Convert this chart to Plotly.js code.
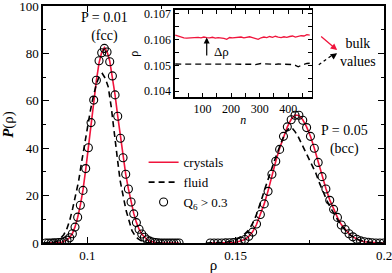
<!DOCTYPE html>
<html><head><meta charset="utf-8">
<script src="https://cdn.plot.ly/plotly-3.0.1.min.js"></script>
<style>html,body{margin:0;padding:0;background:#fff}#chart{width:392px;height:273px}</style>
</head><body><div id="chart"></div>
<script>
// ---- P = 0.01 (fcc) ----
const fccRho = [0.0859,0.0868,0.0877,0.0886,0.0895,0.0904,0.0913,0.0922,0.0931,0.0940,
0.0949,0.0958,0.0967,0.0976,0.0985,0.0994,0.1003,0.1012,0.1021,0.1030,
0.1039,0.1048,0.1057,0.1066,0.1075,0.1084,0.1093,0.1102,0.1111,0.1120,
0.1129,0.1138,0.1147,0.1156,0.1165,0.1174,0.1183,0.1192,0.1201,0.1210,
0.1219,0.1228,0.1237,0.1246,0.1255,0.1264,0.1273,0.1282,0.1291,0.1300,0.1309];
const fccQ6 = [0,0,0,0.05,0.1,0.2,0.3,0.6,1.2,2.2,
3.9,6.7,10.9,15.9,22.2,31.4,40.2,50.8,60.3,68.7,
76.9,80.3,82.1,80.6,76.5,70.5,62.5,53.5,44.2,36.0,
29.0,22.8,17.3,12.3,8.6,5.8,3.8,2.4,1.4,0.8,
0.4,0.2,0.1,0,0,0,0,0,0,0,0];
const fccCrystal = [0,0,0,0.05,0.1,0.2,0.35,0.7,1.3,2.3,
4.0,6.8,10.8,16.0,22.5,31.0,40.5,50.5,60.0,68.5,
76.0,80.5,82.5,80.8,76.8,70.5,62.5,53.5,44.5,36.0,
29.0,22.8,17.2,12.5,8.7,5.8,3.8,2.4,1.4,0.8,
0.4,0.2,0.1,0,0,0,0,0,0,0,0];
const fccFluidRho = [0.085,0.086,0.087,0.088,0.089,0.090,0.091,0.092,0.093,0.094,0.095,0.096,0.097,0.098,0.099,
0.100,0.101,0.102,0.103,0.104,0.105,0.106,0.107,0.108,0.109,0.110,0.111,0.112,0.113,0.114,0.115,0.116,0.117,
0.118,0.119,0.120,0.121,0.122,0.123,0.124,0.125];
const fccFluid = [0,0.05,0.1,0.2,0.4,0.8,2.0,3.5,5.8,9.5,14.5,20,26,34,42,
49,56,62,67,70.5,71.5,69.5,65.9,57.5,48,36.5,26.4,19.5,13.8,9.5,5.2,3.2,1.8,
1.0,0.5,0.2,0.1,0,0,0,0];

// ---- P = 0.05 (bcc) ----
const bccRho = [0.1414,0.1427,0.1440,0.1453,0.1466,0.1479,0.1492,0.1505,0.1518,0.1531,
0.1544,0.1557,0.1570,0.1583,0.1596,0.1609,0.1622,0.1635,0.1648,0.1661,
0.1674,0.1687,0.1700,0.1713,0.1726,0.1739,0.1752,0.1765,0.1778,0.1791,
0.1804,0.1817,0.1830,0.1843,0.1856,0.1869,0.1882,0.1895,0.1908,0.1921,
0.1934,0.1947,0.1960,0.1973,0.1986,0.1999];
const bccQ6 = [0,0,0,0,0.05,0.1,0.2,0.4,0.8,1.5,
2.8,4.6,8.0,12.0,16.5,21.8,29.0,34.5,39.5,45.0,
49.0,52.0,53.9,53.9,51.8,48.7,45.0,40.0,34.0,28.0,
22.8,18.0,14.2,10.8,7.6,5.7,3.9,2.6,1.6,0.9,
0.5,0.3,0.1,0,0,0];
const bccCrystal = [0,0,0,0,0.05,0.1,0.2,0.4,0.8,1.5,
2.8,4.7,7.8,11.8,16.5,22.0,28.5,34.5,40.0,45.0,
49.0,52.2,54.0,53.8,52.0,49.0,45.0,40.0,34.2,28.2,
23.0,18.2,14.2,10.8,7.8,5.6,3.9,2.6,1.6,0.9,
0.5,0.3,0.1,0,0,0];
const bccFluidRho = [0.140,0.141,0.142,0.143,0.144,0.145,0.146,0.147,0.148,0.149,0.150,0.151,0.152,0.153,0.154,
0.155,0.156,0.157,0.158,0.159,0.160,0.161,0.162,0.163,0.164,0.165,0.166,0.167,0.168,0.169,0.170,0.171,0.172,
0.173,0.174,0.175,0.176,0.177,0.178,0.179,0.180,0.181,0.182,0.183,0.184,0.185,0.186,0.187,0.188,0.189,0.190,
0.191,0.192,0.193,0.194,0.195,0.196,0.197,0.198,0.199,0.200];
const bccFluid = [0,0,0,0.05,0.1,0.15,0.25,0.4,0.6,0.9,1.4,2.0,2.8,3.8,5.0,
6.8,9.0,12.0,15.5,19.5,23.5,27.5,31.0,34.5,38.0,41.5,44.5,47,48.5,48.5,47,45,42.5,
40,37.5,35,32,29.5,26,22.9,20,17.2,14.8,12.5,10.5,8.5,6.8,5.3,4.0,3.0,2.2,
1.6,1.1,0.7,0.5,0.3,0.2,0.1,0,0,0];

// ---- inset: density vs n ----
const insetN = [5,15,25,35,45,55,65,75,85,95,105,115,125,135,145,155,165,175,185,195,205,215,225,235,
245,255,265,275,285,295,305,315,325,335,345,355,365,375,385,395,405,415,425,435,445,455,465,475];
const insetCrystal = [0.10616,0.10612,0.10608,0.10606,0.10605,0.10606,0.10605,0.10607,0.10608,0.10606,0.10609,0.10607,
0.10606,0.10608,0.10605,0.10607,0.10606,0.10604,0.10600,0.10607,0.10606,0.10608,0.10607,0.10609,
0.10606,0.10608,0.10610,0.10607,0.10603,0.10600,0.10606,0.10609,0.10607,0.10611,0.10608,0.10612,
0.10609,0.10607,0.10610,0.10608,0.10611,0.10613,0.10609,0.10612,0.10614,0.10613,0.10618,0.10616];
const insetFluid = [0.10505,0.10505,0.10505,0.10506,0.10505,0.10505,0.10504,0.10505,0.10505,0.10506,0.10505,0.10505,
0.10505,0.10504,0.10505,0.10505,0.10506,0.10505,0.10505,0.10504,0.10505,0.10505,0.10505,0.10505,
0.10506,0.10505,0.10505,0.10504,0.10503,0.10506,0.10507,0.10506,0.10505,0.10505,0.10505,0.10504,
0.10505,0.10505,0.10505,0.10505,0.10504,0.10503,0.10500,0.10494,0.10500,0.10505,0.10507,0.10508];

// tick labels
const xTickVals = [0.1, 0.15, 0.2];
const xTickText = ['0.1', '0.15', '0.2'];
const yTickVals = [0, 20, 40, 60, 80, 100];
const yTickText = ['0', '20', '40', '60', '80', '100'];

const RED = '#f0143c';
const FONT = 'Liberation Serif, Times New Roman, serif';
const dashStyle = '6px,4px';

const traces = [
  {x: fccRho, y: fccCrystal, mode: 'lines', name: 'crystals', legendgroup: 'c',
   line: {color: RED, width: 1.6}},
  {x: bccRho, y: bccCrystal, mode: 'lines', name: 'crystals', legendgroup: 'c', showlegend: false,
   line: {color: RED, width: 1.6}},
  {x: fccFluidRho, y: fccFluid, mode: 'lines', name: 'fluid', legendgroup: 'f',
   line: {color: '#000', width: 1.6, dash: dashStyle}},
  {x: bccFluidRho, y: bccFluid, mode: 'lines', name: 'fluid', legendgroup: 'f', showlegend: false,
   line: {color: '#000', width: 1.6, dash: dashStyle}},
  {x: fccRho, y: fccQ6, mode: 'markers', name: 'Q<sub>6</sub> > 0.3', legendgroup: 'q',
   marker: {symbol: 'circle-open', size: 8, color: '#000', line: {width: 1.1, color: '#000'}}},
  {x: bccRho, y: bccQ6, mode: 'markers', name: 'Q6', legendgroup: 'q', showlegend: false,
   marker: {symbol: 'circle-open', size: 8, color: '#000', line: {width: 1.1, color: '#000'}}},
  {x: insetN, y: insetCrystal, xaxis: 'x2', yaxis: 'y2', mode: 'lines', name: 'inset crystals', showlegend: false,
   line: {color: RED, width: 1.3}},
  {x: insetN, y: insetFluid, xaxis: 'x2', yaxis: 'y2', mode: 'lines', name: 'inset fluid', showlegend: false,
   line: {color: '#000', width: 1.3, dash: dashStyle}}
];

const axisCommon = {
  showline: true, linecolor: '#000', linewidth: 1.6, mirror: 'allticks',
  ticks: 'inside', ticklen: 6, tickwidth: 1, tickcolor: '#000',
  showgrid: false, zeroline: false, ticklabeloverflow: 'allow',
  tickfont: {family: FONT, size: 13, color: '#000'}
};

const layout = {
  width: 392, height: 273,
  margin: {l: 43, r: 8, t: 6, b: 30},
  font: {family: FONT, color: '#000'},
  showlegend: true,
  legend: {x: 0.295, y: 0.404, xanchor: 'left', yanchor: 'top', bgcolor: 'rgba(0,0,0,0)',
           font: {family: FONT, size: 13, color: '#000'}, tracegroupgap: 0, itemwidth: 30},
  xaxis: Object.assign({}, axisCommon, {
    range: [0.085, 0.2], tickmode: 'array', tickvals: xTickVals, ticktext: xTickText,
    minor: {tickmode: 'array', tickvals: [0.125, 0.175], ticklen: 3, tickcolor: '#000', ticks: 'inside'},
    title: {text: 'ρ', font: {family: FONT, size: 15}, standoff: 4}
  }),
  yaxis: Object.assign({}, axisCommon, {
    range: [0, 100], tickmode: 'array', tickvals: yTickVals, ticktext: yTickText,
    minor: {tickmode: 'array', tickvals: [10, 30, 50, 70, 90], ticklen: 3, tickcolor: '#000', ticks: 'inside'},
    title: {text: '<b><i>P</i></b>(ρ)', font: {family: FONT, size: 15}, standoff: 6}
  }),
  xaxis2: Object.assign({}, axisCommon, {
    domain: [0.387, 0.788], anchor: 'y2', range: [4, 482], dtick: 100, tick0: 0,
    ticklen: 4, tickfont: {family: FONT, size: 12, color: '#000'},
    minor: {dtick: 50, ticklen: 4, tickcolor: '#000', ticks: 'inside'},
    title: {text: '<i>n</i>', font: {family: FONT, size: 12}, standoff: 0}
  }),
  yaxis2: Object.assign({}, axisCommon, {
    domain: [0.615, 0.983], anchor: 'x2', range: [0.10377, 0.10713], dtick: 0.001, tick0: 0,
    ticklen: 4, tickformat: '.3f', tickfont: {family: FONT, size: 12, color: '#000'},
    minor: {dtick: 0.0005, ticklen: 4, tickcolor: '#000', ticks: 'inside'},
    title: {text: 'ρ', font: {family: FONT, size: 12}, standoff: 3}
  }),
  annotations: [
    {xref: 'x', yref: 'y', x: 0.1059, y: 91.0, text: 'P = 0.01<br>(fcc)', showarrow: false,
     font: {family: FONT, size: 14}},
    {xref: 'x', yref: 'y', x: 0.1868, y: 43.6, text: 'P = 0.05<br>(bcc)', showarrow: false,
     font: {family: FONT, size: 14}},
    {xref: 'x', yref: 'y', x: 0.1912, y: 80.5, text: 'bulk<br>values', showarrow: false,
     font: {family: FONT, size: 14}},
    {xref: 'x', yref: 'y', x: 0.1842, y: 81.4, text: ' ', showarrow: true, ax: -19, ay: -16,
     arrowhead: 2, arrowsize: 1, arrowwidth: 1.3, arrowcolor: RED},
    {xref: 'x', yref: 'y', x: 0.1842, y: 80.1, text: ' ', showarrow: true, ax: -5, ay: 3.5,
     arrowhead: 2, arrowsize: 1, arrowwidth: 1.3, arrowcolor: '#000'},
    {xref: 'x2', yref: 'y2', x: 115, y: 0.10607, text: ' ', showarrow: true, axref: 'x2', ayref: 'y2',
     ax: 115, ay: 0.10505, arrowhead: 2, arrowsize: 1, arrowwidth: 1.2, arrowcolor: '#000'},
    {xref: 'x2', yref: 'y2', x: 165, y: 0.10555, text: 'Δρ', showarrow: false,
     font: {family: FONT, size: 13}}
  ],
  shapes: [
    {type: 'line', xref: 'x', yref: 'y', x0: 0.1780, y0: 75.2, x1: 0.1826, y1: 79.3,
     line: {color: '#000', width: 1.3, dash: '3px,3px'}}
  ]
};

Plotly.newPlot('chart', traces, layout, {displayModeBar: false, staticPlot: true});
</script></body></html>
